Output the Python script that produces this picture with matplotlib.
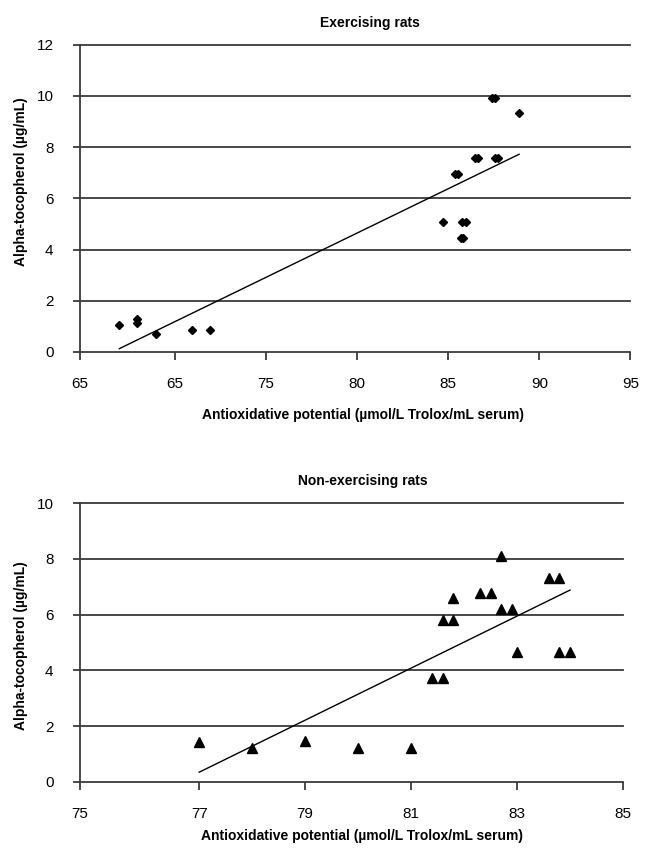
import matplotlib
matplotlib.use('Agg')
from matplotlib import pyplot as plt

# exercising rats (top panel)
ex_x = [66.96, 67.94, 67.94, 68.96, 70.97, 71.96,
        84.69, 85.77, 85.99, 85.68, 85.82, 85.36, 85.52,
        86.46, 86.61, 87.59, 87.74, 87.41, 87.58, 88.89]
ex_y = [1.04, 1.28, 1.14, 0.70, 0.86, 0.86,
        5.08, 5.08, 5.08, 4.44, 4.44, 6.94, 6.94,
        7.59, 7.59, 7.59, 7.59, 9.93, 9.93, 9.32]
ex_fit_y = [0.13, 7.72]          # trend line at min / max of ex_x
ex_xlim = [64.8, 95]
ex_xticks = [70, 75, 80, 85, 90, 95]
ex_xticklabels = ['65', '65', '75', '80', '85', '90', '95']
ex_yticks = [0, 2, 4, 6, 8, 10, 12]

# non-exercising rats (bottom panel)
non_x = [77.0, 78.0, 79.0, 80.0, 81.0, 81.4, 81.6, 81.6, 81.8, 81.8,
         82.3, 82.5, 82.7, 82.9, 82.7, 83.0, 83.6, 83.8, 83.8, 84.0]
non_y = [1.44, 1.21, 1.47, 1.21, 1.21, 3.72, 3.72, 5.81, 5.81, 6.58,
         6.76, 6.76, 6.19, 6.19, 8.10, 4.67, 7.33, 7.33, 4.67, 4.67]
non_fit_y = [0.35, 6.88]         # trend line at min / max of non_x
non_xlim = [74.75, 85]
non_xticks = [77, 79, 81, 83, 85]
non_xticklabels = ['75', '77', '79', '81', '83', '85']
non_yticks = [0, 2, 4, 6, 8, 10]

XLABEL = 'Antioxidative potential (\u00b5mol/L Trolox/mL serum)'
YLABEL = 'Alpha-tocopherol (\u00b5g/mL)'

plt.rcParams['font.family'] = ['Liberation Sans', 'DejaVu Sans']
GRID = '#3a3a3a'


def panel(ax, x, y, fit_y, xlim, xticks, xticklabels, yticks, marker, ms,
          title, title_x, xlabel_xy, ylabel_xy):
    ax.plot(x, y, linestyle='none', marker=marker, ms=ms, color='black', zorder=3)
    ax.plot([min(x), max(x)], fit_y, color='black', lw=1.0, zorder=3)

    ax.set_xlim(xlim)
    ax.set_ylim(yticks[0], yticks[-1])
    ax.set_xticks([xlim[0]] + xticks)
    ax.set_xticklabels(xticklabels)
    ax.set_yticks(yticks)
    ax.set_yticklabels([str(v) for v in yticks])

    for v in yticks:
        ax.axhline(v, color=GRID, lw=1.3, zorder=1, clip_on=False)
    for s in ['top', 'right', 'bottom']:
        ax.spines[s].set_visible(False)
    ax.spines['left'].set_color(GRID)
    ax.spines['left'].set_linewidth(1.3)

    ax.tick_params(axis='y', direction='out', length=5, width=1.3, color=GRID,
                   labelsize=11, pad=14)
    ax.tick_params(axis='x', direction='out', length=6, width=1.3, color=GRID,
                   labelsize=11, pad=12)

    ax.set_title(title, fontsize=10, fontweight='bold', x=title_x, pad=13)
    ax.set_xlabel(XLABEL, fontsize=10, fontweight='bold')
    ax.xaxis.set_label_coords(*xlabel_xy)
    ax.set_ylabel(YLABEL, fontsize=10, fontweight='bold')
    ax.yaxis.set_label_coords(*ylabel_xy)


fig = plt.figure(figsize=(6.54, 8.51), dpi=100)
ax1 = fig.add_axes([0.1223, 0.5864, 0.8417, 0.3611])
ax2 = fig.add_axes([0.1223, 0.0811, 0.8303, 0.3278])

panel(ax1, ex_x, ex_y, ex_fit_y, ex_xlim, ex_xticks, ex_xticklabels, ex_yticks,
      'D', 3.8, 'Exercising rats', 0.527, (0.514, -0.182), (-0.094, 0.553))
panel(ax2, non_x, non_y, non_fit_y, non_xlim, non_xticks, non_xticklabels, non_yticks,
      '^', 6.5, 'Non-exercising rats', 0.521, (0.519, -0.17), (-0.096, 0.49))

fig.savefig('out.png', dpi=100, facecolor='white')
plt.close(fig)
